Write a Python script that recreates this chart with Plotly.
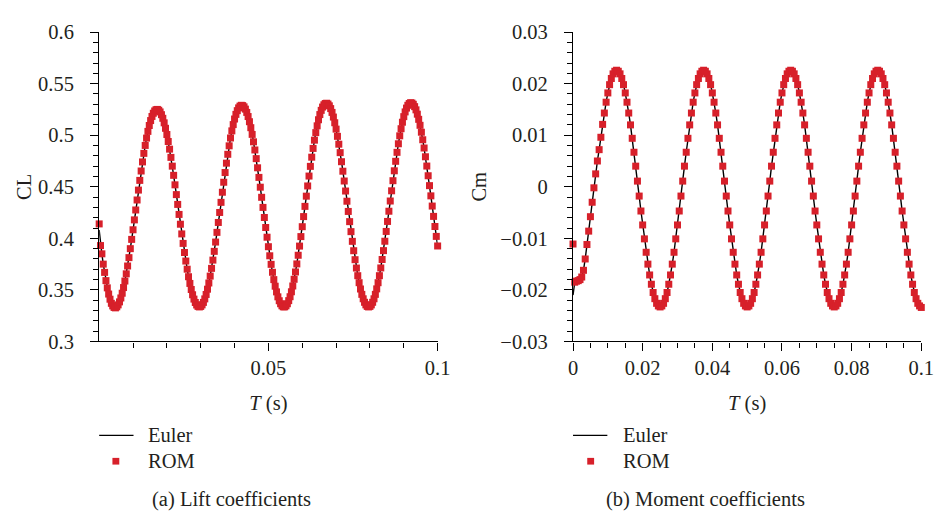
import plotly.graph_objects as go

# ---------------- data ----------------
cl_step = 0.0004   # s, sampling of the lift histories
cm_step = 0.0005   # s, sampling of the moment histories

cl_euler = [
    0.408, 0.393, 0.385, 0.375, 0.367, 0.359, 0.352, 0.346, 0.341, 0.337,
    0.3345, 0.3330, 0.3326, 0.3336, 0.3355, 0.3384, 0.3422, 0.3468, 0.3523, 0.3586,
    0.3656, 0.3732, 0.3813, 0.3900, 0.3990, 0.4083, 0.4179, 0.4275, 0.4372, 0.4468,
    0.4562, 0.4653, 0.4741, 0.4824, 0.4901, 0.4972, 0.5037, 0.5094, 0.5142, 0.5182,
    0.5213, 0.5235, 0.5247, 0.5250, 0.5242, 0.5226, 0.5199, 0.5164, 0.5120, 0.5067,
    0.5007, 0.4939, 0.4865, 0.4785, 0.4700, 0.4611, 0.4519, 0.4424, 0.4329, 0.4232,
    0.4137, 0.4043, 0.3951, 0.3863, 0.3780, 0.3701, 0.3628, 0.3563, 0.3504, 0.3453,
    0.3411, 0.3378, 0.3354, 0.3340, 0.3335, 0.3340, 0.3355, 0.3379, 0.3413, 0.3456,
    0.3507, 0.3567, 0.3634, 0.3709, 0.3789, 0.3874, 0.3964, 0.4058, 0.4154, 0.4251,
    0.4349, 0.4447, 0.4544, 0.4638, 0.4729, 0.4815, 0.4897, 0.4973, 0.5042, 0.5103,
    0.5157, 0.5202, 0.5238, 0.5265, 0.5282, 0.5290, 0.5287, 0.5275, 0.5253, 0.5221,
    0.5181, 0.5131, 0.5073, 0.5008, 0.4936, 0.4857, 0.4773, 0.4684, 0.4591, 0.4496,
    0.4398, 0.4300, 0.4202, 0.4105, 0.4011, 0.3919, 0.3831, 0.3748, 0.3671, 0.3600,
    0.3536, 0.3481, 0.3433, 0.3395, 0.3366, 0.3346, 0.3336, 0.3336, 0.3346, 0.3366,
    0.3396, 0.3434, 0.3482, 0.3538, 0.3603, 0.3674, 0.3752, 0.3836, 0.3925, 0.4017,
    0.4113, 0.4211, 0.4310, 0.4409, 0.4508, 0.4604, 0.4698, 0.4787, 0.4872, 0.4952,
    0.5025, 0.5091, 0.5150, 0.5200, 0.5241, 0.5273, 0.5295, 0.5307, 0.5310, 0.5302,
    0.5285, 0.5258, 0.5221, 0.5176, 0.5121, 0.5059, 0.4989, 0.4913, 0.4831, 0.4743,
    0.4651, 0.4556, 0.4459, 0.4360, 0.4261, 0.4162, 0.4065, 0.3971, 0.3880, 0.3793,
    0.3712, 0.3638, 0.3570, 0.3509, 0.3457, 0.3414, 0.3380, 0.3355, 0.3340, 0.3335,
    0.3340, 0.3355, 0.3380, 0.3414, 0.3457, 0.3510, 0.3570, 0.3638, 0.3713, 0.3795,
    0.3881, 0.3972, 0.4067, 0.4164, 0.4263, 0.4362, 0.4461, 0.4559, 0.4655, 0.4747,
    0.4834, 0.4917, 0.4994, 0.5063, 0.5126, 0.5180, 0.5226, 0.5263, 0.5290, 0.5307,
    0.5315, 0.5312, 0.5300, 0.5277, 0.5246, 0.5204, 0.5154, 0.5096, 0.5029, 0.4956,
    0.4876, 0.4791, 0.4701, 0.4607, 0.4511, 0.4412, 0.4313, 0.4213, 0.4115, 0.4019,
    0.3926,
]
cl_rom_first = 0.414   # ROM value at t = 0 (differs from Euler)

cm_euler = [
    -0.0210, -0.0185, -0.0183, -0.0182, -0.0180, -0.0175, -0.0162, -0.0140, -0.0112, -0.0086,
    -0.0058, -0.0030, -0.0002, 0.0025, 0.0050, 0.0072, 0.0096, 0.0121, 0.0143, 0.0164,
    0.0182, 0.0198, 0.0210, 0.0219, 0.0224, 0.0226, 0.0224, 0.0219, 0.0210, 0.0198,
    0.0182, 0.0164, 0.0143, 0.0120, 0.0094, 0.0067, 0.0040, 0.0011, -0.0018, -0.0047,
    -0.0074, -0.0101, -0.0127, -0.0150, -0.0171, -0.0189, -0.0205, -0.0217, -0.0226, -0.0231,
    -0.0233, -0.0231, -0.0226, -0.0217, -0.0205, -0.0189, -0.0171, -0.0150, -0.0127, -0.0101,
    -0.0074, -0.0047, -0.0018, 0.0011, 0.0040, 0.0067, 0.0094, 0.0120, 0.0143, 0.0164,
    0.0182, 0.0198, 0.0210, 0.0219, 0.0224, 0.0226, 0.0224, 0.0219, 0.0210, 0.0198,
    0.0182, 0.0164, 0.0143, 0.0120, 0.0094, 0.0067, 0.0040, 0.0011, -0.0018, -0.0047,
    -0.0074, -0.0101, -0.0127, -0.0150, -0.0171, -0.0189, -0.0205, -0.0217, -0.0226, -0.0231,
    -0.0233, -0.0231, -0.0226, -0.0217, -0.0205, -0.0189, -0.0171, -0.0150, -0.0127, -0.0101,
    -0.0074, -0.0047, -0.0018, 0.0011, 0.0040, 0.0067, 0.0094, 0.0120, 0.0143, 0.0164,
    0.0182, 0.0198, 0.0210, 0.0219, 0.0224, 0.0226, 0.0224, 0.0219, 0.0210, 0.0198,
    0.0182, 0.0164, 0.0143, 0.0120, 0.0094, 0.0067, 0.0040, 0.0011, -0.0018, -0.0047,
    -0.0074, -0.0101, -0.0127, -0.0150, -0.0171, -0.0189, -0.0205, -0.0217, -0.0226, -0.0231,
    -0.0233, -0.0231, -0.0226, -0.0217, -0.0205, -0.0189, -0.0171, -0.0150, -0.0127, -0.0101,
    -0.0074, -0.0047, -0.0018, 0.0011, 0.0040, 0.0067, 0.0094, 0.0120, 0.0143, 0.0164,
    0.0182, 0.0198, 0.0210, 0.0219, 0.0224, 0.0226, 0.0224, 0.0219, 0.0210, 0.0198,
    0.0182, 0.0164, 0.0143, 0.0120, 0.0094, 0.0067, 0.0040, 0.0011, -0.0018, -0.0047,
    -0.0074, -0.0101, -0.0127, -0.0150, -0.0171, -0.0189, -0.0205, -0.0217, -0.0226, -0.0231,
    -0.0234,
]
cm_rom_first = -0.0111   # ROM value at t = 0 (differs from Euler)

cl_tickvals = [0.3, 0.35, 0.4, 0.45, 0.5, 0.55, 0.6]
cl_ticktext = ["0.3", "0.35", "0.4", "0.45", "0.5", "0.55", "0.6"]
cl_xtickvals = [0.05, 0.1]
cl_xticktext = ["0.05", "0.1"]
cm_tickvals = [-0.03, -0.02, -0.01, 0, 0.01, 0.02, 0.03]
cm_ticktext = ["\u22120.03", "\u22120.02", "\u22120.01", "0", "0.01", "0.02", "0.03"]
cm_xtickvals = [0, 0.02, 0.04, 0.06, 0.08, 0.1]
cm_xticktext = ["0", "0.02", "0.04", "0.06", "0.08", "0.1"]

series_names = ["Euler", "ROM"]
captions = ["(a) Lift coefficients", "(b) Moment coefficients"]

# ---------------- derived ----------------
t_cl = [round(i * cl_step, 4) for i in range(len(cl_euler))]
t_cm = [round(i * cm_step, 4) for i in range(len(cm_euler))]
cl_rom = [cl_rom_first] + cl_euler[1:]
cm_rom = [cm_rom_first] + cm_euler[1:]

FONT = "Liberation Serif"
FS = 20.5
TXT = "#231f20"
RED = "#d7202a"
W, H = 949, 523

fig = go.Figure()
fig.add_trace(go.Scatter(x=t_cl, y=cl_euler, mode="lines", name=series_names[0],
                         line=dict(color="black", width=1.4), xaxis="x", yaxis="y",
                         showlegend=False, cliponaxis=False))
fig.add_trace(go.Scatter(x=t_cl, y=cl_rom, mode="markers", name=series_names[1],
                         marker=dict(symbol="square", size=7, color=RED),
                         xaxis="x", yaxis="y", showlegend=False, cliponaxis=False))
fig.add_trace(go.Scatter(x=t_cm, y=cm_euler, mode="lines", name=series_names[0],
                         line=dict(color="black", width=1.4), xaxis="x2", yaxis="y2",
                         showlegend=False, cliponaxis=False))
fig.add_trace(go.Scatter(x=t_cm, y=cm_rom, mode="markers", name=series_names[1],
                         marker=dict(symbol="square", size=7, color=RED),
                         xaxis="x2", yaxis="y2", showlegend=False, cliponaxis=False))

tickfont = dict(family=FONT, size=FS, color=TXT)
common = dict(showline=True, linecolor="black", linewidth=1.3, ticks="outside",
              ticklen=8, tickwidth=1.3, tickcolor="black", showgrid=False,
              zeroline=False, tickfont=tickfont, fixedrange=True)

def minor(vals=None, dtick=None):
    d = dict(ticks="outside", ticklen=5, tickwidth=1.3, tickcolor="black", showgrid=False)
    if vals is not None:
        d.update(tickmode="array", tickvals=vals)
    else:
        d.update(tickmode="linear", tick0=0, dtick=dtick)
    return d

xdomL = [96 / W, 441 / W]
xdomR = [579 / W, 934 / W]
ydom = [(H - 345) / H, (H - 22) / H]
title_font = dict(family=FONT, size=FS, color=TXT)

# ---- per-panel legend (line sample, square sample, labels) + captions ----
shapes = []
annotations = []
for x_line0, x_text, x_mark in [(96, 144, 113), (579, 628, 597)]:
    y_e = 1 - 443 / H
    y_r = 470
    shapes.append(dict(type="line", xref="paper", yref="paper",
                       x0=x_line0 / W, x1=(x_line0 + 35) / W, y0=y_e, y1=y_e,
                       line=dict(color="black", width=1.4)))
    shapes.append(dict(type="rect", xref="paper", yref="paper",
                       x0=(x_mark - 3.5) / W, x1=(x_mark + 3.5) / W,
                       y0=1 - (y_r + 3.5) / H, y1=1 - (y_r - 3.5) / H,
                       fillcolor=RED, line=dict(width=0)))
    annotations.append(dict(text=series_names[0], x=x_text / W, y=y_e, xref="paper",
                            yref="paper", showarrow=False, xanchor="left",
                            yanchor="middle", font=dict(family=FONT, size=FS, color=TXT)))
    annotations.append(dict(text=series_names[1], x=x_text / W, y=1 - y_r / H,
                            xref="paper", yref="paper", showarrow=False, xanchor="left",
                            yanchor="middle", font=dict(family=FONT, size=FS, color=TXT)))

for cap, xc in zip(captions, [231, 714]):
    annotations.append(dict(text=cap, x=xc / W, y=1 - 510 / H, xref="paper", yref="paper",
                            showarrow=False, xanchor="center", yanchor="middle",
                            font=dict(family=FONT, size=FS, color=TXT)))

fig.update_layout(
    width=W, height=H, margin=dict(l=0, r=0, t=0, b=0),
    paper_bgcolor="white", plot_bgcolor="white",
    font=dict(family=FONT, size=FS, color=TXT),
    showlegend=False,
    xaxis=dict(domain=xdomL, range=[0, 0.1], anchor="y", tickmode="array",
               tickvals=cl_xtickvals, ticktext=cl_xticktext,
               minor=minor(vals=[0.01, 0.02, 0.03, 0.04, 0.06, 0.07, 0.08, 0.09]),
               ticklabelstandoff=0,
               title=dict(text="<i>T</i> (s)", font=title_font, standoff=17), **common),
    yaxis=dict(domain=ydom, range=[0.3, 0.6], anchor="x", tickmode="array",
               tickvals=cl_tickvals, ticktext=cl_ticktext, minor=minor(dtick=0.01),
               ticklabelstandoff=12,
               title=dict(text="CL", font=title_font, standoff=0), **common),
    xaxis2=dict(domain=xdomR, range=[0, 0.1], anchor="y2", tickmode="array",
                tickvals=cm_xtickvals, ticktext=cm_xticktext, minor=minor(dtick=0.005),
                ticklabelstandoff=0,
                title=dict(text="<i>T</i> (s)", font=title_font, standoff=17), **common),
    yaxis2=dict(domain=ydom, range=[-0.03, 0.03], anchor="x2", tickmode="array",
                tickvals=cm_tickvals, ticktext=cm_ticktext, minor=minor(dtick=0.002),
                ticklabelstandoff=12,
                title=dict(text="Cm", font=title_font, standoff=8), **common),
    shapes=shapes,
    annotations=annotations,
)

fig.write_html("out.html")
